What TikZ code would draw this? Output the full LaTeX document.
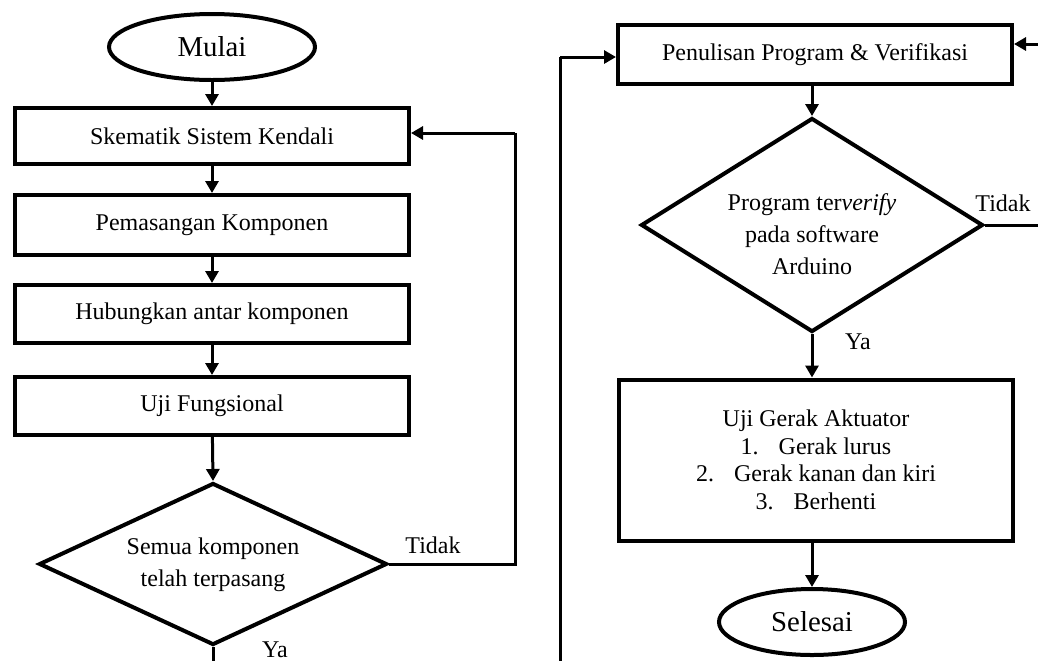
\documentclass[tikz,border=0pt]{standalone}
\usepackage{fontspec}
\setmainfont{Liberation Serif}
\usetikzlibrary{shapes.geometric,arrows.meta}
\begin{document}
\begin{tikzpicture}[x=0.5pt,y=-0.5pt,
  procbox/.style={draw,line width=2pt,rectangle,minimum width=197pt,inner sep=0pt,font=\fontsize{12}{13.8}\selectfont,align=center},
  termnode/.style={draw,line width=2pt,ellipse,inner sep=0pt,font=\fontsize{14.4}{16}\selectfont},
  decnode/.style={draw,line width=2pt,diamond,inner sep=0pt},
  dectext/.style={font=\fontsize{12}{16}\selectfont,align=center,inner sep=0pt},
  lbl/.style={font=\fontsize{12}{14}\selectfont,inner sep=0pt},
  conn/.style={line width=1.5pt,-{Triangle[length=6pt,width=6.5pt]}},
  plain/.style={line width=1.5pt}]
\useasboundingbox (0,0) rectangle (1038,660);
% left column
\node[termnode,minimum width=103pt,minimum height=33pt] (mulai) at (212,47) {Mulai};
\node[procbox,minimum height=28pt] (b1) at (212,136) {Skematik Sistem Kendali};
\node[procbox,minimum height=30pt] (b2) at (212,225) {Pemasangan Komponen};
\node[procbox,minimum height=29pt] (b3) at (212,314) {Hubungkan antar komponen};
\node[procbox,minimum height=29pt] (b4) at (212,406) {Uji Fungsional};
\node[decnode,minimum width=174pt,minimum height=81pt] (d1) at (213,564) {};
\node[dectext] (d1t) at (213,565) {Semua komponen\\telah terpasang};
\coordinate (t1) at (515,133);
\coordinate (y1) at (213,680);
\node[lbl] (tidak1) at (433,545) {Tidak};
\node[lbl,anchor=base] (ya1) at (275,657) {Ya};
\draw[conn] (mulai) -- (b1);
\draw[conn] (b1) -- (b2);
\draw[conn] (b2) -- (b3);
\draw[conn] (b3) -- (b4);
\draw[conn] (b4) -- (d1.north);
\draw[plain] (d1.east) -| (t1);
\draw[conn] (t1) -- (t1 -| b1.east);
\draw[plain] (d1.south) -- (y1);
% right column
\node[procbox,minimum height=29.5pt] (pen) at (815,54.5) {Penulisan Program \& Verifikasi};
\node[decnode,minimum width=171pt,minimum height=107pt] (d2) at (812,225) {};
\node[dectext] (d2t) at (812,234) {Program ter\textit{verify}\\pada software\\Arduino};
\node[procbox,minimum height=80.5pt] (b5) at (816,460) {Uji Gerak Aktuator\\1.\hspace{10pt}Gerak lurus\\2.\hspace{10pt}Gerak kanan dan kiri\\3.\hspace{10pt}Berhenti};
\node[termnode,minimum width=93pt,minimum height=33pt] (selesai) at (812,622) {Selesai};
\coordinate (c1) at (560,680);
\coordinate (c2) at (560,57);
\coordinate (t2) at (1042,44);
\node[lbl] (tidak2) at (1003,203) {Tidak};
\node[lbl] (ya2) at (858,342) {Ya};
\draw[plain] (c1) -- (c2);
\draw[conn] (c2) -- (c2 -| pen.west);
\draw[conn] (pen.south -| d2.north) -- (d2.north);
\draw[plain] (d2.east) -| (t2);
\draw[conn] (t2) -- (t2 -| pen.east);
\draw[conn] (d2.south) -- (d2.south |- b5.north);
\draw[conn] (b5.south -| selesai.north) -- (selesai.north);
\end{tikzpicture}
\end{document}
